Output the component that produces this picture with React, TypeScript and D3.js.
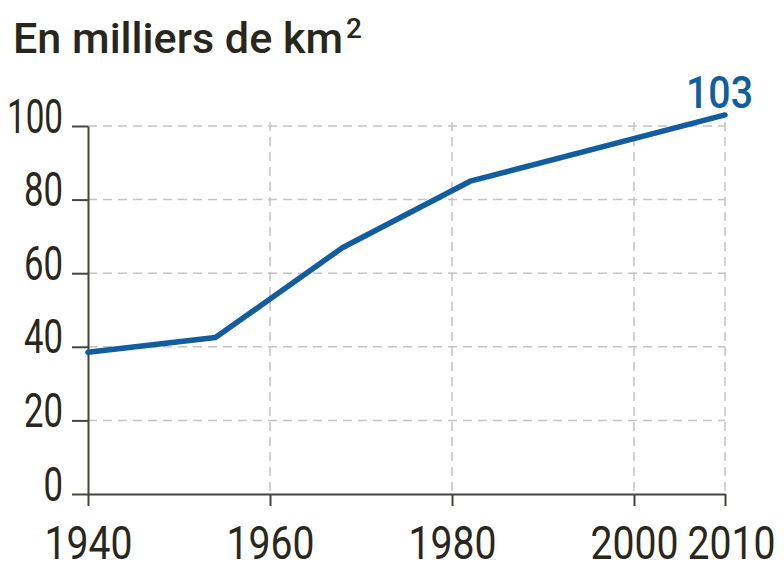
import { useRef, useEffect } from "react";
import * as d3 from "d3";

const years = [1940, 1954, 1968, 1982, 2010];
const values = [38.5, 42.5, 67, 85, 103];
const xTicks = [1940, 1960, 1980, 2000, 2010];
const yTicks = [0, 20, 40, 60, 80, 100];
const title = "En milliers de km";
const endLabel = "103";

const W = 784;
const H = 565;
const FONT = "Roboto, 'Liberation Sans', sans-serif";
const INK = "#29271d";
const BLUE = "#125da0";
const GRID = "#c4c4c4";
const AXIS = "#45443e";

export default function App() {
  const svgRef = useRef<SVGSVGElement>(null);

  useEffect(() => {
    if (!svgRef.current) return;
    const svg = d3.select(svgRef.current);
    svg.selectAll("*").remove();

    const x = d3.scaleLinear().domain([1940, 2010]).range([88, 725]);
    const y = d3.scaleLinear().domain([0, 100]).range([494, 126]);

    // Title (font is squeezed to mimic the condensed original)
    svg.append("text")
      .attr("x", 13)
      .attr("y", 53)
      .attr("fill", INK)
      .attr("font-family", FONT)
      .attr("font-weight", 500)
      .attr("font-size", "42px")
      .attr("textLength", 330)
      .attr("lengthAdjust", "spacingAndGlyphs")
      .text(title);
    svg.append("text")
      .attr("x", 346)
      .attr("y", 38)
      .attr("fill", INK)
      .attr("font-family", FONT)
      .attr("font-weight", 500)
      .attr("font-size", "28px")
      .text("2");

    // Horizontal grid
    svg.append("g")
      .selectAll("line")
      .data(yTicks.filter((d) => d > 0))
      .join("line")
      .attr("x1", x(1940))
      .attr("x2", x(2010))
      .attr("y1", (d) => y(d))
      .attr("y2", (d) => y(d))
      .attr("stroke", GRID)
      .attr("stroke-width", 1.5)
      .attr("stroke-dasharray", "9,6");

    // Vertical grid
    svg.append("g")
      .selectAll("line")
      .data(xTicks.filter((d) => d > 1940))
      .join("line")
      .attr("x1", (d) => x(d))
      .attr("x2", (d) => x(d))
      .attr("y1", y(100) - 4)
      .attr("y2", y(0))
      .attr("stroke", GRID)
      .attr("stroke-width", 1.5)
      .attr("stroke-dasharray", "9,6");

    // Y axis
    const yAxis = svg.append("g")
      .attr("transform", `translate(${x(1940)},0)`)
      .call(d3.axisLeft(y).tickValues(yTicks).tickSize(16).tickPadding(9).tickSizeOuter(0));
    yAxis.selectAll<SVGTextElement, number>("text")
      .attr("fill", INK)
      .attr("font-family", FONT)
      .attr("font-size", "48px")
      .attr("dy", null)
      .attr("y", 6)
      .attr("textLength", (d) => (d === 100 ? 56 : String(d).length * 19.5))
      .attr("lengthAdjust", "spacingAndGlyphs");

    // X axis
    const xAxis = svg.append("g")
      .attr("transform", `translate(0,${y(0)})`)
      .call(d3.axisBottom(x).tickValues(xTicks).tickFormat(d3.format("d")).tickSize(12).tickPadding(6).tickSizeOuter(0));
    xAxis.selectAll<SVGTextElement, number>("text")
      .attr("fill", INK)
      .attr("font-family", FONT)
      .attr("font-size", "47px")
      .attr("dy", null)
      .attr("y", 65)
      .attr("textLength", 88)
      .attr("lengthAdjust", "spacingAndGlyphs");
    // last two labels sit close together: nudge 2010 to the right like the original
    xAxis.selectAll<SVGTextElement, number>("text")
      .filter((d) => d === 2010)
      .attr("x", 6);

    svg.selectAll(".domain").attr("stroke", AXIS).attr("stroke-width", 2);
    svg.selectAll(".tick line").attr("stroke", AXIS).attr("stroke-width", 2);

    // Series
    const data = years.map((yr, i) => ({ yr, v: values[i] }));
    const line = d3.line<(typeof data)[0]>()
      .x((d) => x(d.yr))
      .y((d) => y(d.v));
    svg.append("path")
      .datum(data)
      .attr("d", line)
      .attr("fill", "none")
      .attr("stroke", BLUE)
      .attr("stroke-width", 5.5)
      .attr("stroke-linejoin", "round")
      .attr("stroke-linecap", "round");

    // End label
    const last = data[data.length - 1];
    svg.append("text")
      .attr("x", x(last.yr) + 28)
      .attr("y", y(last.v) - 7)
      .attr("text-anchor", "end")
      .attr("fill", BLUE)
      .attr("font-family", FONT)
      .attr("font-weight", 500)
      .attr("font-size", "45px")
      .attr("textLength", 67)
      .attr("lengthAdjust", "spacingAndGlyphs")
      .text(endLabel);
  }, []);

  return <svg ref={svgRef} width={W} height={H} viewBox={`0 0 ${W} ${H}`} style={{ position: "absolute", left: 0, top: 0, background: "#fff" }} />;
}
